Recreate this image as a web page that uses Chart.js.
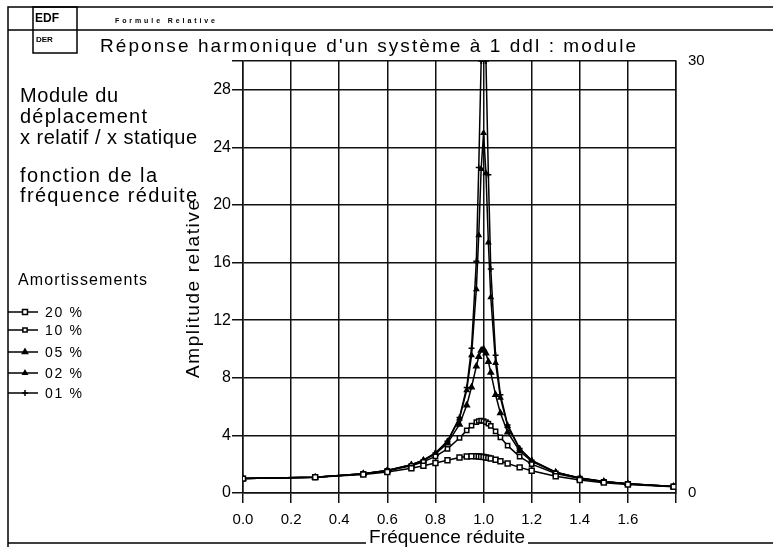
<!DOCTYPE html>
<html>
<head>
<meta charset="utf-8">
<script src="https://cdn.jsdelivr.net/npm/chart.js@4/dist/chart.umd.min.js"></script>
<style>
  html, body { margin: 0; padding: 0; background: #fff; }
  #wrap { width: 773px; height: 547px; }
</style>
</head>
<body>
<div id="wrap"><canvas id="chart" width="773" height="547"></canvas></div>
<script>
// reduced frequency samples (x)
const freq = [0, 0.3, 0.5, 0.6, 0.7, 0.75, 0.8, 0.85, 0.9, 0.93, 0.95, 0.97, 0.98, 0.99, 1.0,
              1.01, 1.02, 1.03, 1.05, 1.07, 1.1, 1.15, 1.2, 1.3, 1.4, 1.5, 1.6, 1.79];

// relative amplitude, one list per damping
const amort20 = [1, 1.09, 1.29, 1.46, 1.72, 1.89, 2.08, 2.28, 2.46, 2.53, 2.55, 2.55, 2.54, 2.52, 2.5,
                 2.47, 2.44, 2.4, 2.31, 2.21, 2.05, 1.78, 1.54, 1.16, 0.9, 0.72, 0.59, 0.43];
const amort10 = [1, 1.1, 1.32, 1.54, 1.89, 2.16, 2.54, 3.07, 3.82, 4.35, 4.68, 4.93, 5.0, 5.02, 5.0,
                 4.93, 4.81, 4.66, 4.28, 3.87, 3.29, 2.53, 2.0, 1.36, 1.0, 0.78, 0.63, 0.45];
const amort05 = [1, 1.1, 1.33, 1.56, 1.94, 2.25, 2.71, 3.45, 4.76, 6.1, 7.35, 8.8, 9.46, 9.9, 10.0,
                 9.71, 9.12, 8.36, 6.82, 5.55, 4.22, 2.92, 2.19, 1.42, 1.03, 0.79, 0.64, 0.45];
const amort02 = [1, 1.1, 1.33, 1.56, 1.96, 2.28, 2.77, 3.58, 5.17, 7.14, 9.56, 14.15, 17.9, 22.5, 25.0,
                 22.2, 17.4, 13.6, 9.03, 6.62, 4.66, 3.07, 2.26, 1.45, 1.04, 0.8, 0.64, 0.45];
const amort01 = [1, 1.1, 1.33, 1.56, 1.96, 2.28, 2.78, 3.6, 5.24, 7.33, 10.06, 16.1, 22.6, 30, 30,
                 30, 22.1, 15.55, 9.56, 6.83, 4.73, 3.09, 2.27, 1.45, 1.04, 0.8, 0.64, 0.45];

const dampLabels = ['20 %', '10 %', '05 %', '02 %', '01 %'];
const xTicks = [0, 0.2, 0.4, 0.6, 0.8, 1.0, 1.2, 1.4, 1.6, 1.8];
const yTicks = [0, 4, 8, 12, 16, 20, 24, 28, 30];
const rightTicks = [0, 30];

const FONT = "'Liberation Sans', Arial, sans-serif";

const styles = [
  { pointStyle: 'rect', fill: '#fff', radius: 3.5 },
  { pointStyle: 'rect', fill: '#fff', radius: 3 },
  { pointStyle: 'triangle', fill: '#000', radius: 3 },
  { pointStyle: 'triangle', fill: '#000', radius: 2.5 },
  { pointStyle: 'cross', fill: '#000', radius: 3 }
];

const series = [amort20, amort10, amort05, amort02, amort01];

const datasets = series.map((vals, i) => ({
  label: dampLabels[i],
  data: freq.map((f, k) => ({ x: f, y: vals[k] })),
  borderColor: '#000',
  borderWidth: 1.5,
  pointStyle: styles[i].pointStyle,
  pointRadius: styles[i].radius,
  pointBorderWidth: 1.5,
  pointBorderColor: '#000',
  pointBackgroundColor: styles[i].fill,
  tension: 0,
  fill: false
}));

// draw text stretched to a given width (the original has loose letter spacing)
function spaced(ctx, text, x, y, width) {
  const natural = ctx.measureText(text).width;
  const extra = text.length > 1 ? (width - natural) / (text.length - 1) : 0;
  for (let i = 0; i < text.length; i++) {
    const dx = ctx.measureText(text.slice(0, i)).width + i * extra;
    ctx.fillText(text[i], x + dx, y);
  }
}

const decor = {
  id: 'decor',
  afterDraw(chart) {
    const ctx = chart.ctx;
    ctx.save();
    ctx.fillStyle = '#000';
    ctx.strokeStyle = '#000';
    ctx.textAlign = 'left';
    ctx.textBaseline = 'alphabetic';

    // page frame
    ctx.lineWidth = 1.5;
    ctx.beginPath();
    ctx.moveTo(8, 547); ctx.lineTo(8, 7); ctx.lineTo(773, 7);
    ctx.moveTo(8, 30); ctx.lineTo(773, 30);
    ctx.moveTo(8, 543); ctx.lineTo(366, 543);
    ctx.moveTo(528, 543); ctx.lineTo(773, 543);
    ctx.stroke();

    // logo box
    ctx.strokeRect(33, 7, 44, 46);
    ctx.font = "bold 12px " + FONT;
    ctx.fillText('EDF', 35, 22);
    ctx.font = "bold 8px " + FONT;
    ctx.fillText('DER', 36, 42);
    ctx.font = "bold 7px " + FONT;
    spaced(ctx, 'Formule Relative', 115, 23, 100);

    // title
    ctx.font = "19px " + FONT;
    spaced(ctx, "Réponse harmonique d'un système à 1 ddl : module", 100, 52, 536);

    // left-hand description
    ctx.font = "20px " + FONT;
    spaced(ctx, 'Module du', 20, 102, 98);
    spaced(ctx, 'déplacement', 20, 123, 127);
    spaced(ctx, 'x relatif / x statique', 20, 144, 177);
    spaced(ctx, 'fonction de la', 20, 182, 137);
    spaced(ctx, 'fréquence réduite', 20, 202, 177);

    // axis titles
    ctx.font = "19px " + FONT;
    spaced(ctx, 'Fréquence réduite', 369, 543, 156);
    ctx.save();
    ctx.translate(199, 378);
    ctx.rotate(-Math.PI / 2);
    spaced(ctx, 'Amplitude relative', 0, 0, 178);
    ctx.restore();

    // legend
    ctx.font = "16px " + FONT;
    spaced(ctx, 'Amortissements', 18, 285, 129);
    ctx.font = "14px " + FONT;
    const rows = [312, 330, 352, 373, 393];
    rows.forEach((y, i) => {
      ctx.lineWidth = 1.5;
      ctx.strokeStyle = '#000';
      ctx.beginPath();
      ctx.moveTo(8, y); ctx.lineTo(38, y);
      ctx.stroke();
      ctx.fillStyle = styles[i].fill;
      Chart.helpers.drawPoint(ctx, {
        pointStyle: styles[i].pointStyle, radius: styles[i].radius, rotation: 0, borderWidth: 1.5
      }, 25, y);
      ctx.fillStyle = '#000';
      spaced(ctx, dampLabels[i], 45, y + 5, 37);
    });
    ctx.restore();
  }
};

new Chart(document.getElementById('chart'), {
  type: 'line',
  data: { datasets: datasets },
  plugins: [decor],
  options: {
    responsive: false,
    animation: false,
    layout: { padding: { top: 61, left: 0, right: 0, bottom: 0 } },
    plugins: { legend: { display: false }, tooltip: { enabled: false } },
    scales: {
      x: {
        type: 'linear', min: 0, max: 1.8, position: 'bottom',
        afterBuildTicks: s => { s.ticks = xTicks.map(v => ({ value: v })); },
        afterFit: s => { s.height = 54; },
        grid: { color: '#111', lineWidth: 1.5, tickLength: 10, drawTicks: true },
        border: { color: '#111', width: 1.5 },
        ticks: {
          color: '#000', font: { family: FONT, size: 15 }, padding: 8,
          maxRotation: 0, autoSkip: false,
          callback: v => (v > 1.7 ? '' : v.toFixed(1))
        }
      },
      y: {
        type: 'linear', min: 0, max: 30, position: 'left',
        afterBuildTicks: s => { s.ticks = yTicks.map(v => ({ value: v })); },
        afterFit: s => { s.width = 243; },
        grid: { color: '#111', lineWidth: 1.5, tickLength: 11, drawTicks: true },
        border: { color: '#111', width: 1.5 },
        ticks: {
          color: '#000', font: { family: FONT, size: 16 }, padding: 1,
          callback: v => (v === 30 ? '' : String(v))
        }
      },
      y1: {
        type: 'linear', min: 0, max: 30, position: 'right',
        afterBuildTicks: s => { s.ticks = rightTicks.map(v => ({ value: v })); },
        afterFit: s => { s.width = 97; },
        grid: { display: false, drawTicks: false },
        border: { color: '#111', width: 1.5 },
        ticks: { color: '#000', font: { family: FONT, size: 15 }, padding: 12 }
      }
    }
  }
});
</script>
</body>
</html>
